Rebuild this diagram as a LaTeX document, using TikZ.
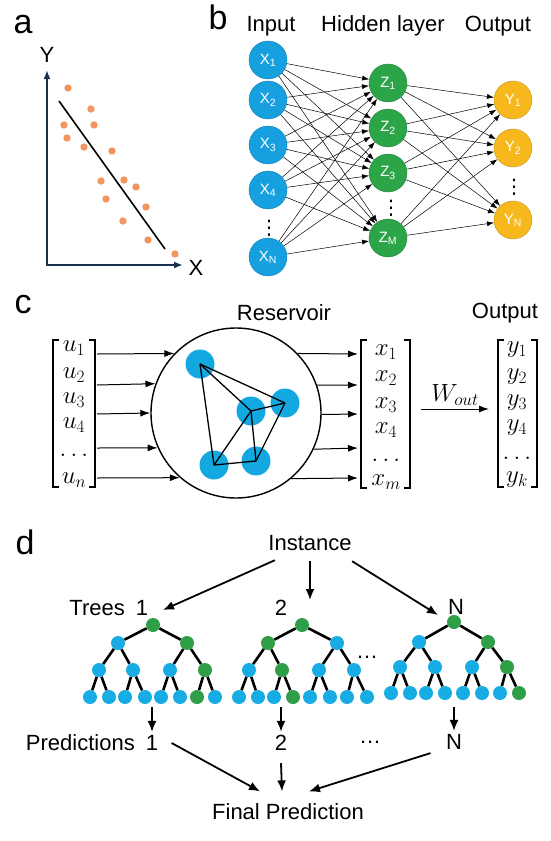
\documentclass[tikz,border=0pt]{standalone}
\usepackage{fontspec}
\setmainfont{Liberation Sans}
\newfontfamily\symfont{DejaVu Sans}
\usetikzlibrary{arrows.meta, positioning}
\definecolor{axisnavy}{RGB}{27,49,82}
\definecolor{dotorange}{RGB}{241,150,95}
\definecolor{nnblue}{RGB}{22,160,223}
\definecolor{nngreen}{RGB}{44,165,72}
\definecolor{nnyellow}{RGB}{246,184,28}
\definecolor{resblue}{RGB}{20,168,224}
\definecolor{treeblue}{RGB}{24,172,228}
\definecolor{treegreen}{RGB}{46,158,71}

\begin{document}
\begin{tikzpicture}[x=1pt, y=-1pt, every node/.style={font=\fontsize{22}{26}\selectfont},
  panel/.style={font=\fontsize{34}{40}\selectfont},
  neuron/.style={circle, draw=#1!80!black, line width=0.4pt, fill=#1, minimum size=38pt,
    inner sep=0pt, text=white, font=\fontsize{15}{18}\selectfont},
  vdot/.style={inner sep=0pt, font=\symfont\fontsize{20}{22}\selectfont},
  wire/.style={-{Latex[length=7pt,width=5pt]}, line width=0.5pt},
  axis/.style={axisnavy, line width=1.8pt, {Latex[length=9pt,width=7pt]}-{Latex[length=9pt,width=7pt]}},
  entry/.style={font=\fontsize{24}{28}\selectfont, inner sep=1pt},
  bracket/.style={line width=1.3pt},
  carr/.style={-{Latex[length=10pt,width=7pt]}, line width=1pt},
  darr/.style={-{Latex[length=11pt,width=9pt]}, line width=1.8pt},
  resdot/.style={circle, fill=resblue, minimum size=29pt, inner sep=0pt},
  tdot/.style={circle, fill=#1, minimum size=14pt, inner sep=0pt},
  branch/.style={line width=2.6pt}]
  \useasboundingbox (0,0) rectangle (550,841);

  % a: regression
  \node[panel] (la) at (23,25) {a};
  \coordinate (ytop) at (47,70);
  \coordinate (org) at (47,265);
  \coordinate (xend) at (183,265);
  \draw[axis] (ytop) -- (org) -- (xend);
  \node (ylab) at (47,55) {Y};
  \node (xlab) at (196,268) {X};
  \foreach \x/\y in {68/88, 91/109, 64/125, 94/125, 67/138, 84/147, 112/151, 101/181,
                     124/180, 136/187, 106/199, 146/207, 123/221, 148/240, 175/254}
    \fill[dotorange] (\x,\y) circle (3.7);
  \coordinate (fa) at (59,101);
  \coordinate (fb) at (165,249);
  \draw[line width=1.6pt] (fa) -- (fb);

  % b: neural network
  \node[panel] (lb) at (218,17) {b};
  \node (inlab) at (271,26) {Input};
  \node (hidlab) at (383,26) {Hidden layer};
  \node (outlab) at (498,26) {Output};
  \foreach \i/\y/\t in {1/60/1, 2/100/2, 3/145/3, 4/190/4, 5/257/N}
    \node[neuron=nnblue] (x\i) at (268,\y) {X\textsubscript{\t}};
  \foreach \j/\y/\t in {1/83/1, 2/128/2, 3/173/3, 4/238/M}
    \node[neuron=nngreen] (z\j) at (388,\y) {Z\textsubscript{\t}};
  \foreach \k/\y/\t in {1/100/1, 2/148/2, 3/220/N}
    \node[neuron=nnyellow] (oy\k) at (513,\y) {Y\textsubscript{\t}};
  \node[vdot] (xdots) at (269,228) {⋮};
  \node[vdot] (zdots) at (391,208) {⋮};
  \node[vdot] (ydots) at (514,187) {⋮};
  \foreach \i in {1,...,5}
    \foreach \j in {1,...,4}
      \draw[wire] (x\i) -- (z\j);
  \foreach \j in {1,...,4}
    \foreach \k in {1,2,3}
      \draw[wire] (z\j) -- (oy\k);

  % c: reservoir computing
  \node[panel] (lc) at (23,305) {c};
  \node (reslab) at (284,313) {Reservoir};
  \node (coutlab) at (505,313) {Output};
  \node[circle, draw, line width=1.4pt, minimum size=170pt, inner sep=0pt] (res) at (236,413) {};
  \foreach \n/\x/\y in {A/200/364, B/251/411, C/285/403, D/214/465, E/256/461}
    \node[resdot] (r\n) at (\x,\y) {};
  \foreach \a/\b in {A/B, A/C, A/D, B/C, B/D, B/E, C/E, D/E}
    \draw[line width=1.3pt] (r\a.center) -- (r\b.center);
  \foreach \i/\y/\t in {1/348/u_1, 2/375/u_2, 3/400/u_3, 4/425/u_4, 5/455/\dots, 6/480/u_n}
    \node[entry] (cu\i) at (74,\y) {$\t$};
  \foreach \i/\y/\t in {1/352/x_1, 2/378/x_2, 3/405/x_3, 4/430/x_4, 5/460/\dots, 6/482/x_m}
    \node[entry] (cx\i) at (386,\y) {$\t$};
  \foreach \i/\y/\t in {1/350/y_1, 2/377/y_2, 3/403/y_3, 4/428/y_4, 5/458/\dots, 6/480/y_k}
    \node[entry] (cy\i) at (517,\y) {$\t$};
  \draw[bracket] (59,340) -| (53,487) -- (59,487);
  \draw[bracket] (89,340) -| (95,487) -- (89,487);
  \draw[bracket] (367,340) -| (361,488) -- (367,488);
  \draw[bracket] (404,340) -| (410,488) -- (404,488);
  \draw[bracket] (504,340) -| (498,487) -- (504,487);
  \draw[bracket] (531,340) -| (537,487) -- (531,487);
  \foreach \i/\y/\r/\l in {1/354/44/136, 2/385/19.2/160.8, 3/414/359.3/180.7,
                           4/448/335.7/204.3, 5/478/310.1/229.9} {
    \coordinate (uo\i) at (97,\y);
    \coordinate (xi\i) at (358,\y);
    \draw[carr] (uo\i) -- (res.\l);
    \draw[carr] (res.\r) -- (xi\i);
  }
  \coordinate (wa) at (421,409);
  \coordinate (wb) at (489,409);
  \draw[carr] (wa) -- node[above=2pt, entry] (wlab) {$W_{out}$} (wb);

  % d: random forest
  \node[panel] (ld) at (25,542) {d};
  \node (inst) at (310,543) {Instance};
  \node (tn1) at (142,608) {1};
  \node[left=4pt of tn1] (trees) {Trees};
  \node (tn2) at (281,608) {2};
  \node (tn3) at (456,607) {N};
  \coordinate (ta1) at (163,610);
  \coordinate (ta2) at (310,600);
  \coordinate (ta3) at (438,615);
  \draw[darr] ([xshift=10pt,yshift=-6pt]inst.south west) -- (ta1);
  \draw[darr] ([yshift=-7pt]inst.south) -- (ta2);
  \draw[darr] ([xshift=-3pt,yshift=-7pt]inst.south east) -- (ta3);

  % tree 1
  \node[tdot=treegreen] (t1-r) at (153,625) {};
  \foreach \i/\x/\c in {1/118/treeblue, 2/187/treegreen}
    \node[tdot=\c] (t1-a\i) at (\x,643) {};
  \foreach \i/\x/\c in {1/99/treeblue, 2/133/treeblue, 3/170/treeblue, 4/205/treegreen}
    \node[tdot=\c] (t1-b\i) at (\x,670) {};
  \foreach \i/\x/\c in {1/90/treeblue, 2/109/treeblue, 3/125/treeblue, 4/145/treeblue,
                        5/161/treeblue, 6/180/treeblue, 7/197/treegreen, 8/215/treeblue}
    \node[tdot=\c] (t1-c\i) at (\x,697) {};
  % tree 2
  \node[tdot=treegreen] (t2-r) at (302,625) {};
  \foreach \i/\x/\c in {1/268/treegreen, 2/337/treeblue}
    \node[tdot=\c] (t2-a\i) at (\x,643) {};
  \foreach \i/\x/\c in {1/249/treeblue, 2/282/treegreen, 3/319/treeblue, 4/354/treeblue}
    \node[tdot=\c] (t2-b\i) at (\x,670) {};
  \foreach \i/\x/\c in {1/239/treeblue, 2/258/treeblue, 3/274/treeblue, 4/293/treegreen,
                        5/310/treeblue, 6/330/treeblue, 7/347/treeblue, 8/367/treeblue}
    \node[tdot=\c] (t2-c\i) at (\x,697) {};
  % tree N
  \node[tdot=treegreen] (t3-r) at (454,622) {};
  \foreach \i/\x/\c in {1/419/treeblue, 2/488/treegreen}
    \node[tdot=\c] (t3-a\i) at (\x,642) {};
  \foreach \i/\x/\c in {1/400/treeblue, 2/435/treeblue, 3/472/treeblue, 4/507/treegreen}
    \node[tdot=\c] (t3-b\i) at (\x,667) {};
  \foreach \i/\x/\c in {1/391/treeblue, 2/410/treeblue, 3/426/treeblue, 4/445/treeblue,
                        5/463/treeblue, 6/482/treeblue, 7/500/treeblue, 8/519/treegreen}
    \node[tdot=\c] (t3-c\i) at (\x,693) {};
  \foreach \k in {1,2,3} {
    \foreach \i in {1,2}
      \draw[branch] (t\k-r) -- (t\k-a\i);
    \foreach \i in {1,...,4} {
      \pgfmathtruncatemacro{\p}{(\i+1)/2}
      \draw[branch] (t\k-a\p) -- (t\k-b\i);
    }
    \foreach \i in {1,...,8} {
      \pgfmathtruncatemacro{\p}{(\i+1)/2}
      \draw[branch] (t\k-b\p) -- (t\k-c\i);
    }
  }
  \node (tdots) at (367,657) {\dots};

  % predictions
  \node (pn1) at (152,743) {1};
  \node[left=4pt of pn1] (preds) {Predictions};
  \node (pn2) at (281,743) {2};
  \node (pdots) at (370,742) {\dots};
  \node (pn3) at (454,742) {N};
  \foreach \i/\x in {1/152, 2/281, 3/454} {
    \coordinate (pt\i) at (\x,707);
    \draw[darr] (pt\i) -- (pn\i);
  }
  \node (final) at (288,812) {Final Prediction};
  \draw[darr] ([xshift=10pt]pn1.east) -- ([xshift=-28pt,yshift=9pt]final.north);
  \draw[darr] ([yshift=-9pt]pn2.south) -- ([xshift=-6pt,yshift=9pt]final.north);
  \draw[darr] ([xshift=-12pt]pn3.south west) -- ([xshift=21pt,yshift=9pt]final.north);
\end{tikzpicture}
\end{document}
